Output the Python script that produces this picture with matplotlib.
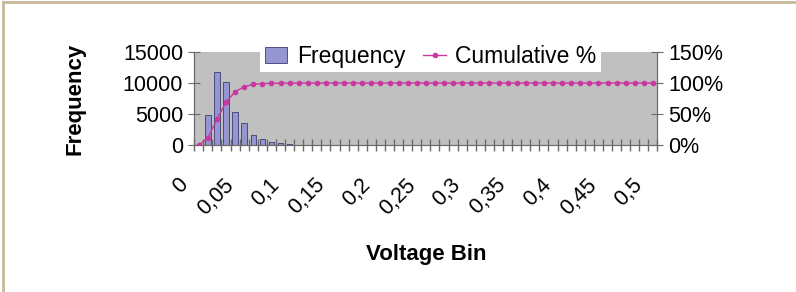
import matplotlib.pyplot as plt
from matplotlib.lines import Line2D
from matplotlib.ticker import PercentFormatter
from matplotlib.transforms import ScaledTranslation

plt.rcParams["font.family"] = ["Liberation Sans", "DejaVu Sans"]

# bins 0 .. 0,5 step 0,01
bins = [round(i * 0.01, 2) for i in range(51)]
frequency = [0, 4900, 11800, 10200, 5300, 3600, 1700, 1000, 550, 280,
             120, 60, 30, 15] + [0] * 37
cumulative = [0, 0.11, 0.42, 0.69, 0.86, 0.94, 0.98, 0.99, 0.995, 0.998,
              0.999] + [1.0] * 40
tick_labels = ["0", "0,05", "0,1", "0,15", "0,2", "0,25", "0,3", "0,35", "0,4", "0,45", "0,5"]

fig = plt.figure(figsize=(7.96, 2.92), dpi=100)
ax = fig.add_axes([0.244, 0.503, 0.582, 0.319])
ax.set_facecolor("#c0c0c0")

pos = list(range(len(bins)))
bars = ax.bar(pos, frequency, width=0.6, color="#9595d2", edgecolor="#3c3c70", linewidth=0.6, zorder=2)
ax.set_xlim(-0.5, len(bins) - 0.5)
ax.set_ylim(0, 15000)
ax.set_yticks([0, 5000, 10000, 15000])
ax.tick_params(axis="y", labelsize=15.5, direction="inout", length=8, color="#6a6a6a", pad=4)

# tick marks between categories, labels every 5 bins
ax.set_xticks([p - 0.5 for p in pos] + [len(bins) - 0.5])
ax.set_xticklabels([])
ax.tick_params(axis="x", which="major", direction="inout", length=9, color="#6a6a6a", width=1)
ax.set_xticks(pos[::5], tick_labels, minor=True)
ax.tick_params(axis="x", which="minor", length=0, labelsize=15.5, pad=6)
shift = ScaledTranslation(-0.21, -0.21, fig.dpi_scale_trans)
for t in ax.get_xticklabels(minor=True):
    t.set_rotation(45)
    t.set_ha("right")
    t.set_va("top")
    t.set_rotation_mode("anchor")
    t.set_transform(t.get_transform() + shift)

ax2 = ax.twinx()
line, = ax2.plot(pos, cumulative, color="#c8389f", linewidth=1, marker="o", markersize=3, zorder=3)
ax2.set_ylim(0, 1.5)
ax2.set_yticks([0, 0.5, 1.0, 1.5])
ax2.yaxis.set_major_formatter(PercentFormatter(1.0, decimals=0))
ax2.tick_params(axis="y", labelsize=15.5, direction="inout", length=8, color="#6a6a6a", pad=4)

for a in (ax, ax2):
    a.spines["top"].set_visible(False)
    for s in ("left", "right", "bottom"):
        a.spines[s].set_color("#6a6a6a")

ax.set_ylabel("Frequency", fontsize=16, fontweight="bold")
ax.yaxis.set_label_coords(-0.235, 0.5)
ax.set_xlabel("Voltage Bin", fontsize=16, fontweight="bold")
ax.xaxis.set_label_coords(0.5, -1.06)

leg = fig.legend([bars, line], ["Frequency", "Cumulative %"], loc="center",
                 bbox_to_anchor=(0.541, 0.808), ncol=2, fontsize=16.5,
                 frameon=True, facecolor="white", edgecolor="none", framealpha=1,
                 fancybox=False, borderpad=0.2, handlelength=1.0, handletextpad=0.4,
                 columnspacing=0.8)

# thin frame lines top and left
fig.add_artist(Line2D([0.004, 1.0], [0.993, 0.993], color="#c8b89a", linewidth=2))
fig.add_artist(Line2D([0.004, 0.004], [0.0, 0.993], color="#c8b89a", linewidth=2))

plt.savefig("out.png", dpi=100)
